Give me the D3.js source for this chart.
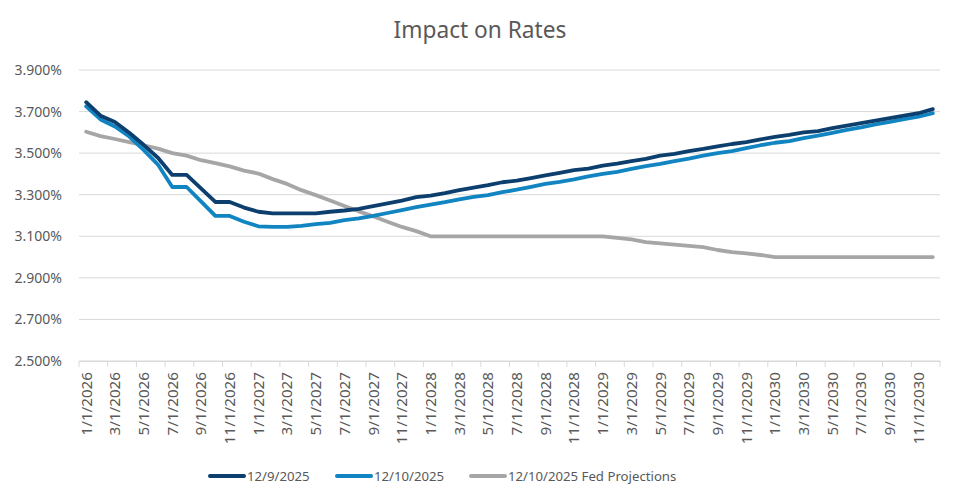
<!DOCTYPE html>
<html>
<head>
<meta charset="utf-8">
<script src="https://cdn.jsdelivr.net/npm/d3@7"></script>
<style>
  body { margin: 0; background: #fff; }
  svg { display: block; font-family: "Noto Sans", "Open Sans", sans-serif; }
</style>
</head>
<body>
<svg id="chart" width="960" height="503"></svg>
<script>
// Monthly dates 1/1/2026 .. 12/1/2030
const years = [2026, 2027, 2028, 2029, 2030];
const months = [1,2,3,4,5,6,7,8,9,10,11,12];
const dates = [];
years.forEach(y => months.forEach(m => dates.push(m + "/1/" + y)));

const yTicks = [2.5, 2.7, 2.9, 3.1, 3.3, 3.5, 3.7, 3.9];

// 12/9/2025 curve
const curve1209 = [
  3.745, 3.680, 3.650, 3.598, 3.540, 3.478, 3.395, 3.395, 3.330, 3.265,
  3.265, 3.238, 3.218, 3.210, 3.210, 3.210, 3.210, 3.218, 3.224, 3.232,
  3.245, 3.258, 3.272, 3.288, 3.296, 3.308, 3.322, 3.334, 3.346, 3.360,
  3.368, 3.380, 3.393, 3.405, 3.418, 3.426, 3.440, 3.450, 3.462, 3.472,
  3.488, 3.496, 3.510, 3.520, 3.532, 3.544, 3.553, 3.566, 3.578, 3.588,
  3.600, 3.606, 3.620, 3.632, 3.644, 3.656, 3.668, 3.680, 3.692, 3.712
];

// 12/10/2025 curve
const curve1210 = [
  3.725, 3.662, 3.628, 3.580, 3.516, 3.445, 3.337, 3.337, 3.268, 3.198,
  3.198, 3.170, 3.148, 3.145, 3.145, 3.150, 3.158, 3.165, 3.178, 3.186,
  3.198, 3.212, 3.226, 3.240, 3.252, 3.264, 3.278, 3.290, 3.298, 3.312,
  3.324, 3.338, 3.352, 3.362, 3.374, 3.388, 3.400, 3.410, 3.424, 3.438,
  3.448, 3.462, 3.474, 3.488, 3.500, 3.510, 3.524, 3.538, 3.550, 3.558,
  3.572, 3.584, 3.598, 3.612, 3.624, 3.638, 3.650, 3.664, 3.676, 3.692
];

// 12/10/2025 Fed projections
const fedProj = [
  3.603, 3.582, 3.568, 3.553, 3.538, 3.522, 3.500, 3.488, 3.466, 3.452,
  3.436, 3.416, 3.402, 3.375, 3.352, 3.322, 3.298, 3.272, 3.246, 3.220,
  3.196, 3.170, 3.145, 3.125, 3.100, 3.100, 3.100, 3.100, 3.100, 3.100,
  3.100, 3.100, 3.100, 3.100, 3.100, 3.100, 3.100, 3.092, 3.085, 3.072,
  3.066, 3.060, 3.054, 3.048, 3.034, 3.024, 3.018, 3.010, 3.000, 3.000,
  3.000, 3.000, 3.000, 3.000, 3.000, 3.000, 3.000, 3.000, 3.000, 3.000
];

const series = [
  { name: "12/9/2025", values: curve1209, color: "#0d3f6e" },
  { name: "12/10/2025", values: curve1210, color: "#1184c2" },
  { name: "12/10/2025 Fed Projections", values: fedProj, color: "#a6a6a6" }
];

const svg = d3.select("#chart");
const textColor = "#595959";
const plotLeft = 79, plotRight = 940, plotTop = 70, plotBottom = 361;

const x = d3.scaleBand().domain(dates).range([plotLeft, plotRight]).padding(0);
const y = d3.scaleLinear().domain([2.5, 3.9]).range([plotBottom, plotTop]);

// Title
svg.append("text")
  .attr("x", 480).attr("y", 38).attr("text-anchor", "middle")
  .attr("font-size", 22.7).attr("fill", textColor)
  .text("Impact on Rates");

// Gridlines + y labels
svg.append("g").selectAll("line").data(yTicks).join("line")
  .attr("x1", plotLeft).attr("x2", plotRight)
  .attr("y1", d => y(d)).attr("y2", d => y(d))
  .attr("stroke", "#d9d9d9").attr("stroke-width", 1);

svg.append("g").selectAll("text").data(yTicks).join("text")
  .attr("x", 62).attr("y", d => y(d) + 5)
  .attr("text-anchor", "end").attr("font-size", 14).attr("fill", textColor)
  .text(d => d.toFixed(3) + "%");

// X axis with ticks every 2 months, labels rotated
const labelDates = dates.filter((d, i) => i % 2 === 0);
const xAxis = d3.axisBottom(x).tickValues(labelDates).tickSize(0).tickFormat(d => d);
const gx = svg.append("g").attr("transform", `translate(0,${plotBottom})`).call(xAxis);
gx.select(".domain").attr("stroke", "#d9d9d9");
gx.selectAll("text")
  .attr("font-family", "Noto Sans, Open Sans, sans-serif")
  .attr("font-size", 15.2).attr("fill", textColor)
  .attr("text-anchor", "end")
  .attr("transform", "rotate(-90)")
  .attr("x", -11).attr("y", 0).attr("dy", "0.35em");

// tick marks at boundaries between 2-month groups
const tickPos = labelDates.map(d => x(d)).concat([plotRight]);
svg.append("g").selectAll("line").data(tickPos).join("line")
  .attr("x1", d => d).attr("x2", d => d)
  .attr("y1", plotBottom).attr("y2", plotBottom + 6)
  .attr("stroke", "#d9d9d9").attr("stroke-width", 1);

// Lines
const line = d3.line()
  .x((d, i) => x(dates[i]) + x.bandwidth() / 2)
  .y(d => y(d));

series.slice().reverse().forEach(s => {
  svg.append("path")
    .datum(s.values)
    .attr("fill", "none")
    .attr("stroke", s.color)
    .attr("stroke-width", 3.8)
    .attr("stroke-linejoin", "round")
    .attr("stroke-linecap", "round")
    .attr("d", line);
});

// Legend
const legendItems = [
  { s: series[0], x: 210 },
  { s: series[1], x: 337 },
  { s: series[2], x: 471 }
];
const lg = svg.append("g");
legendItems.forEach(it => {
  lg.append("line")
    .attr("x1", it.x).attr("x2", it.x + 34)
    .attr("y1", 476).attr("y2", 476)
    .attr("stroke", it.s.color).attr("stroke-width", 4)
    .attr("stroke-linecap", "round");
  lg.append("text")
    .attr("x", it.x + 37).attr("y", 480.5)
    .attr("font-size", 13.2).attr("fill", textColor)
    .text(it.s.name);
});
</script>
</body>
</html>
